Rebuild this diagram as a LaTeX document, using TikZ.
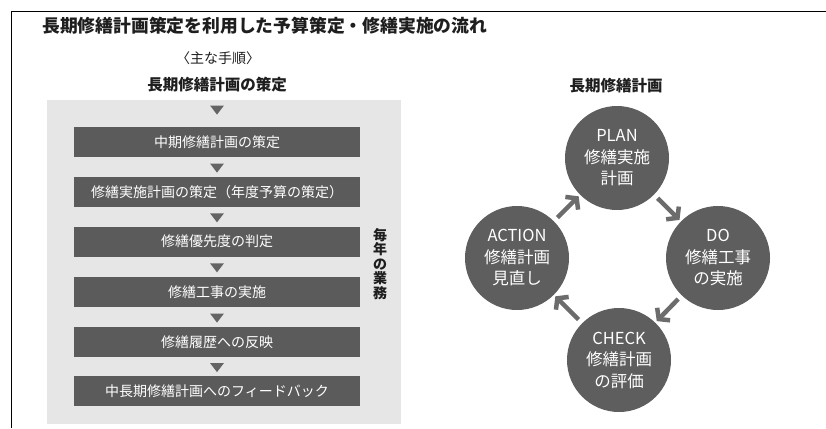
\documentclass[tikz,border=0pt]{standalone}
\usepackage{fontspec}
\setmainfont{Noto Sans CJK JP}
\usetikzlibrary{arrows.meta,shapes.geometric,calc}
\definecolor{boxgray}{HTML}{5B5B5B}
\definecolor{circgray}{HTML}{5E5E5E}
\definecolor{panelgray}{HTML}{E6E6E6}
\definecolor{trigray}{HTML}{646464}
\definecolor{arrowgray}{HTML}{6C6C6C}
\definecolor{txt}{HTML}{1E1E1E}
\begin{document}
\begin{tikzpicture}[x=1pt,y=-1pt,
  stepbox/.style={fill=boxgray, text=white, minimum width=286pt, minimum height=30pt,
    inner sep=0pt, font=\fontsize{14}{14}\selectfont},
  tri/.style={isosceles triangle, isosceles triangle apex angle=75, shape border rotate=-90,
    fill=trigray, inner sep=0pt, minimum height=9pt, minimum width=8pt},
  cyc/.style={circle, fill=circgray, text=white, minimum size=104pt, inner sep=0pt,
    align=center, font=\fontsize{16.5}{21.5}\selectfont},
  arr/.style={draw=arrowgray, line width=4.5pt,
    -{Straight Barb[length=7pt,width=18pt]}, shorten <=5pt, shorten >=2pt},
  hd/.style={text=txt, inner sep=0pt, font=\bfseries\fontsize{15.5}{15.5}\selectfont}]
\useasboundingbox (0,0) rectangle (826,428);
\fill[white] (0,0) rectangle (826,428);
% frame
\coordinate (fl) at (11.5,428);
\coordinate (fc) at (11.5,11.5);
\coordinate (fr) at (826,11.5);
\draw[line width=1.5pt, black] (fl) -- (fc) -- (fr);
% title
\node[text=txt, anchor=west, inner sep=0pt, font=\bfseries\fontsize{17.8}{17.8}\selectfont]
  (title) at (42,26) {長期修繕計画策定を利用した予算策定・修繕実施の流れ};
\node[text=txt, inner sep=0pt, font=\fontsize{14}{14}\selectfont] (sub) at (218,58) {〈主な手順〉};
\node[hd] (long) at (217,85) {長期修繕計画の策定};
% panel
\node[fill=panelgray, minimum width=354pt, minimum height=324pt, inner sep=0pt] (panel) at (224,262) {};
% steps
\node[stepbox] (b1) at (217,142) {中期修繕計画の策定};
\node[stepbox] (b2) at (217,192) {修繕実施計画の策定（年度予算の策定）};
\node[stepbox] (b3) at (217,241.5) {修繕優先度の判定};
\node[stepbox] (b4) at (217,292) {修繕工事の実施};
\node[stepbox] (b5) at (217,342) {修繕履歴への反映};
\node[stepbox] (b6) at (217,391) {中長期修繕計画へのフィードバック};
\node[tri] (t0) at (217,109) {};
\node[tri] at ($(b1.south)!0.5!(b2.north)$) {};
\node[tri] at ($(b2.south)!0.5!(b3.north)$) {};
\node[tri] at ($(b3.south)!0.5!(b4.north)$) {};
\node[tri] at ($(b4.south)!0.5!(b5.north)$) {};
\node[tri] at ($(b5.south)!0.5!(b6.north)$) {};
% vertical label
\node[text=txt, inner sep=0pt, align=center, font=\bfseries\fontsize{14}{14.5}\selectfont]
  (yearly) at (380,264) {毎\\年\\の\\業\\務};
% right cycle
\node[hd] (cyctitle) at (616,86) {長期修繕計画};
\node[cyc] (plan) at (617,158) {PLAN\\修繕実施\\計画};
\node[cyc] (do) at (718,258) {DO\\修繕工事\\の実施};
\node[cyc] (check) at (619,360) {CHECK\\修繕計画\\の評価};
\node[cyc] (act) at (517,258) {ACTION\\修繕計画\\見直し};
\draw[arr] (act) -- (plan);
\draw[arr] (plan) -- (do);
\draw[arr] (do) -- (check);
\draw[arr] (check) -- (act);
\end{tikzpicture}
\end{document}
